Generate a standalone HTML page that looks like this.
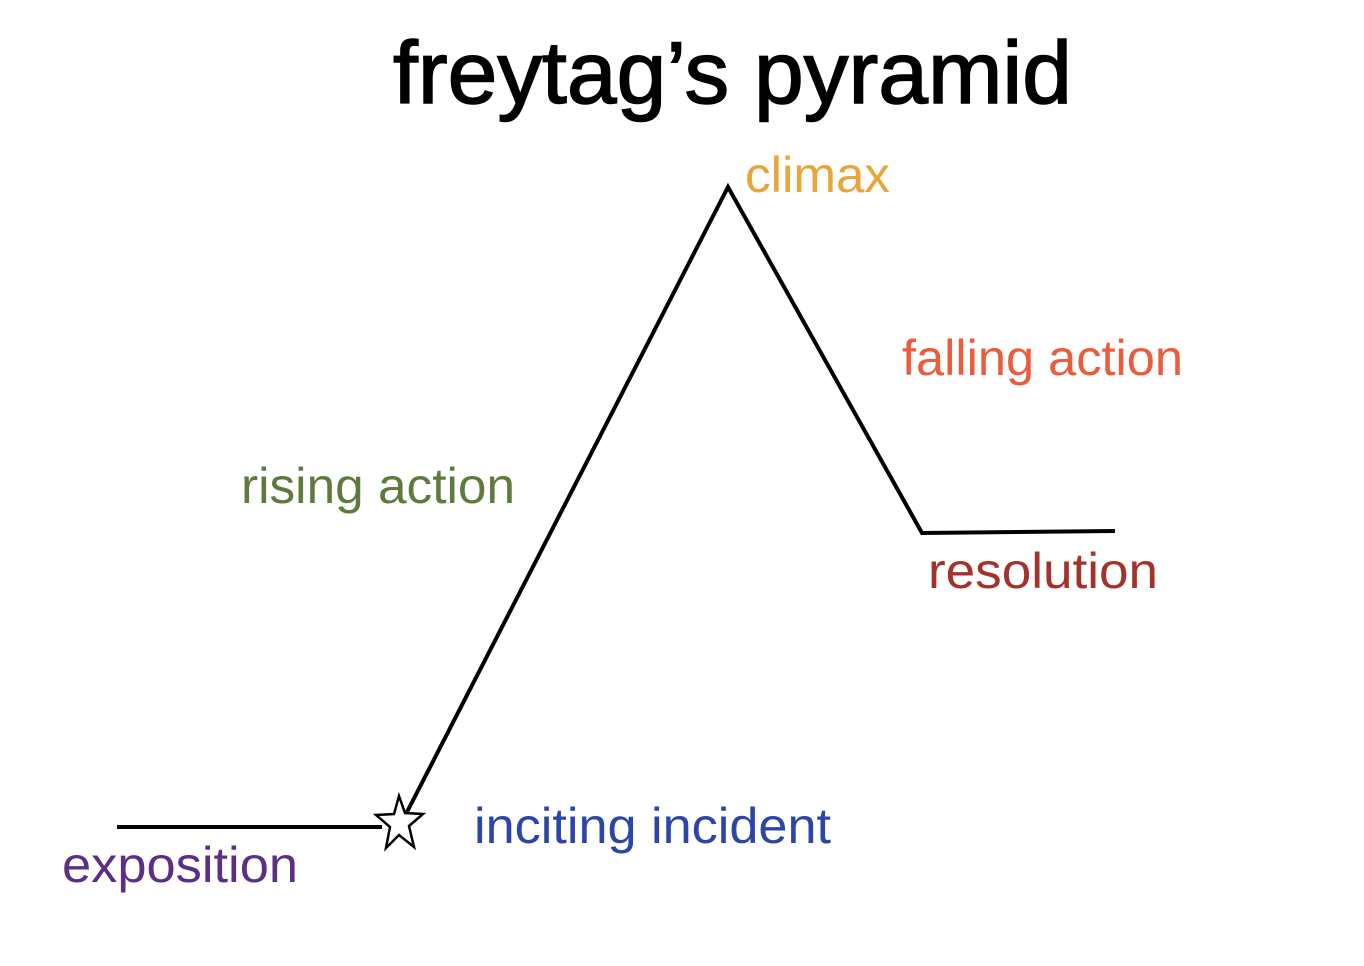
<!DOCTYPE html>
<html><head><meta charset="utf-8"><style>
html,body{margin:0;padding:0;background:#fff;}
svg{display:block;}
text{font-family:"Liberation Sans",sans-serif;}
</style></head><body>
<svg width="1364" height="966" viewBox="0 0 1364 966" xmlns="http://www.w3.org/2000/svg">
<text x="393" y="103" font-size="88" textLength="679" lengthAdjust="spacingAndGlyphs" fill="#000" stroke="#000" stroke-width="1.5">freytag’s pyramid</text>
<g stroke="#000" stroke-width="4" fill="none" stroke-linejoin="miter">
<line x1="117" y1="827" x2="382" y2="827"/>
<polyline points="407,812 728,187 922,533 1115,531"/>
</g>
<polygon points="399,796 405,813 423,814 409,826 414,847 399,835 386,848 390,827 376,815 394,814" fill="#fff" stroke="#000" stroke-width="2.5" stroke-linejoin="miter"/>
<g font-size="50">
<text x="745" y="192" fill="#e9a53a" textLength="145" lengthAdjust="spacingAndGlyphs">climax</text>
<text x="902" y="375" fill="#ec5b3b" textLength="281" lengthAdjust="spacingAndGlyphs">falling action</text>
<text x="241" y="503" fill="#5e7b3d" textLength="274" lengthAdjust="spacingAndGlyphs">rising action</text>
<text x="928" y="588" fill="#a3322b" textLength="230" lengthAdjust="spacingAndGlyphs">resolution</text>
<text x="474" y="843" fill="#2b45a8" textLength="357" lengthAdjust="spacingAndGlyphs">inciting incident</text>
<text x="62" y="882" fill="#5b2e87" textLength="236" lengthAdjust="spacingAndGlyphs">exposition</text>
</g>
</svg>
</body></html>
